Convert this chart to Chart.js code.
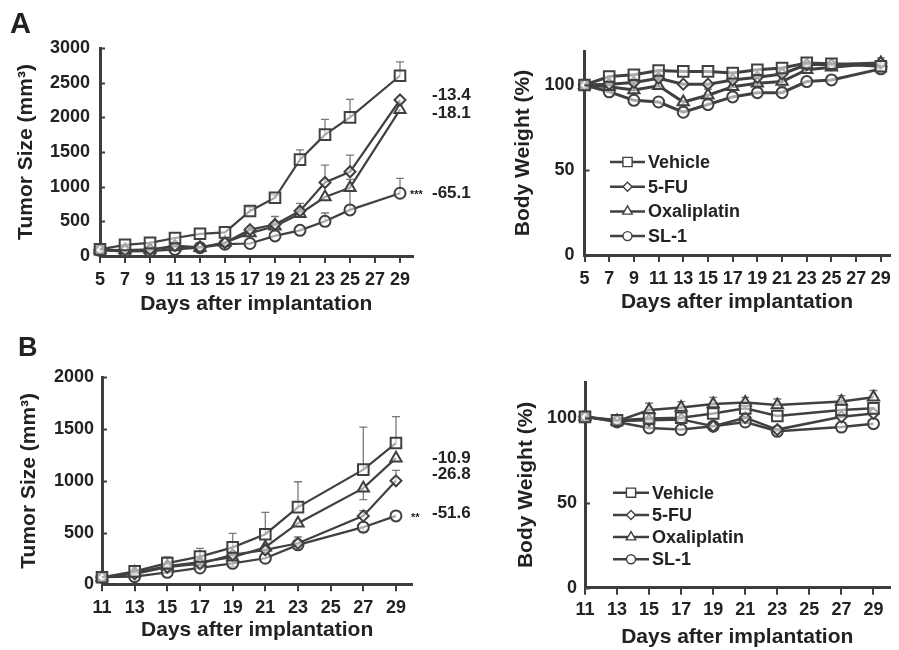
<!DOCTYPE html>
<html>
<head>
<meta charset="utf-8">
<script src="https://cdn.jsdelivr.net/npm/chart.js@4.4.0/dist/chart.umd.min.js"></script>
<style>
  body { margin: 0; background: #fff; }
  #page { position: relative; width: 899px; height: 650px; overflow: hidden; font-family: "Liberation Sans", Arial, sans-serif; color: #222; }
  canvas { position: absolute; }
  .txt { position: absolute; font-weight: bold; line-height: 1; white-space: nowrap; }
</style>
</head>
<body>
<div id="page">
  <canvas id="tumorA" style="left:0;top:0"></canvas>
  <canvas id="weightA" style="left:450px;top:0"></canvas>
  <canvas id="tumorB" style="left:0;top:320px"></canvas>
  <canvas id="weightB" style="left:450px;top:320px"></canvas>

  <div class="txt" style="left:10px;top:9px;font-size:29px">A</div>
  <div class="txt" style="left:18px;top:334px;font-size:27px">B</div>

  <div class="txt" style="left:432px;top:86px;font-size:17px">-13.4</div>
  <div class="txt" style="left:432px;top:104px;font-size:17px">-18.1</div>
  <div class="txt" style="left:432px;top:184px;font-size:17px">-65.1</div>

  <div class="txt" style="left:432px;top:449px;font-size:17px">-10.9</div>
  <div class="txt" style="left:432px;top:465px;font-size:17px">-26.8</div>
  <div class="txt" style="left:432px;top:504px;font-size:17px">-51.6</div>
</div>
<script>
// series shared by all four panels
var seriesNames = ['Vehicle', '5-FU', 'Oxaliplatin', 'SL-1'];
var markerStyles = ['rect', 'rectRot', 'triangle', 'circle'];
var markerSizes = [7.5, 5.5, 6.5, 5.5];

// panel A - tumor size
var daysA = [5, 7, 9, 11, 13, 15, 17, 19, 21, 23, 25, 29];
var dayTicksA = [5, 7, 9, 11, 13, 15, 17, 19, 21, 23, 25, 27, 29];
var tumorTicksA = [0, 500, 1000, 1500, 2000, 2500, 3000];
var tumorA_vehicle = [95, 160, 190, 260, 320, 340, 650, 840, 1390, 1750, 2000, 2600];
var tumorA_5fu = [90, 80, 90, 150, 125, 190, 380, 455, 650, 1060, 1215, 2250];
var tumorA_oxali = [90, 85, 95, 130, 120, 195, 330, 430, 610, 850, 985, 2110];
var tumorA_sl1 = [80, 65, 70, 95, 120, 170, 180, 290, 370, 500, 665, 905];
// error bars: positive drawn up, negative drawn down
var tumorAErr_vehicle = [0, 0, 0, 0, 0, 0, 50, 40, 140, 220, 260, 200];
var tumorAErr_5fu = [0, 0, 0, 0, 0, 0, 0, 115, 110, 250, 240, 0];
var tumorAErr_oxali = [0, 0, 0, 0, 0, 0, 0, 0, 60, 0, 120, 0];
var tumorAErr_sl1 = [0, 0, 0, 0, 0, 0, 0, 0, 0, 120, 280, 215];

// panel A - body weight
var weightTicks = [0, 50, 100];
var weightA_vehicle = [100, 105, 106, 108.5, 108, 108, 107, 109, 110, 113, 112.5, 111];
var weightA_5fu = [100, 100.5, 101.5, 104, 100.5, 100.5, 103, 104.5, 106.5, 112, 112, 113];
var weightA_oxali = [100, 99, 97, 99.5, 90, 94, 99, 101, 102, 109, 110.5, 113];
var weightA_sl1 = [100, 96, 91, 90, 84, 88.5, 93, 95.5, 95.5, 102, 103, 109.5];
var weightAErr_vehicle = [0, 0, 0, 0, 0, 0, 0, 0, 0, 0, 0, 5];
var weightAErr_5fu = [0, 0, 0, 0, 0, -3, 0, 0, 0, 0, 0, 0];
var weightAErr_oxali = [0, 0, -3, 0, -3, -3, 0, -3, -3, 0, 0, 0];
var weightAErr_sl1 = [0, 0, 0, 0, 0, 0, 0, 0, 0, 0, 0, -2];

// panel B - tumor size
var daysB = [11, 13, 15, 17, 19, 21, 23, 27, 29];
var dayTicksB = [11, 13, 15, 17, 19, 21, 23, 25, 27, 29];
var tumorTicksB = [0, 500, 1000, 1500, 2000];
var tumorB_vehicle = [68, 125, 205, 268, 357, 484, 746, 1108, 1365];
var tumorB_5fu = [68, 100, 165, 200, 284, 332, 397, 661, 1000];
var tumorB_oxali = [68, 113, 177, 215, 261, 358, 590, 929, 1219];
var tumorB_sl1 = [68, 74, 116, 158, 203, 252, 381, 552, 661];
var tumorBErr_vehicle = [0, 0, 60, 80, 135, 210, 245, 410, 255];
var tumorBErr_5fu = [0, 0, 0, 0, 0, 0, 60, 50, 100];
var tumorBErr_oxali = [0, 0, 0, 0, 0, 0, 0, -110, 0];
var tumorBErr_sl1 = [0, 0, 0, 0, -30, 0, 0, -50, 0];

// panel B - body weight
var weightB_vehicle = [100.5, 98.5, 99.5, 100, 102.5, 105.5, 101, 104.5, 105.5];
var weightB_5fu = [100.5, 98, 98.5, 99, 95, 100, 93, 100.5, 102.5];
var weightB_oxali = [100.5, 98, 104.5, 106, 108, 109, 107.5, 109.5, 112];
var weightB_sl1 = [100.5, 97.5, 94, 93, 95, 97.5, 92, 94.5, 96.5];
var weightBErr_vehicle = [0, 0, 0, 0, 0, 0, 0, 0, 0];
var weightBErr_5fu = [0, 0, 0, 0, 0, 0, 0, 0, 0];
var weightBErr_oxali = [0, 0, 4, 3.5, 4, 3, 3.5, 3.5, 4];
var weightBErr_sl1 = [0, 0, 0, 0, 0, 0, 0, 0, 0];

var FONT = '"Liberation Sans", Arial, sans-serif';
var INK = '#222';
var AXIS = '#3d3d3d';
var LINE = '#404040';

// vertical error bars with a cap at the end
var errorBars = {
  id: 'errorBars',
  beforeDatasetsDraw: function (chart) {
    var ctx = chart.ctx, x = chart.scales.x, y = chart.scales.y;
    ctx.save();
    ctx.strokeStyle = '#7a7a7a';
    ctx.lineWidth = 1.3;
    chart.data.datasets.forEach(function (ds) {
      (ds.errors || []).forEach(function (e, k) {
        if (!e) return;
        var pt = ds.data[k];
        var px = x.getPixelForValue(pt.x);
        var y0 = y.getPixelForValue(pt.y);
        var y1 = y.getPixelForValue(pt.y + e);
        ctx.beginPath();
        ctx.moveTo(px, y0); ctx.lineTo(px, y1);
        ctx.moveTo(px - 4, y1); ctx.lineTo(px + 4, y1);
        ctx.stroke();
      });
    });
    ctx.restore();
  }
};

function marker(ctx, style, cx, cy, r) {
  ctx.beginPath();
  if (style === 'rect') {
    var s = r * Math.SQRT1_2;
    ctx.rect(cx - s, cy - s, 2 * s, 2 * s);
  } else if (style === 'rectRot') {
    ctx.moveTo(cx, cy - r); ctx.lineTo(cx + r, cy); ctx.lineTo(cx, cy + r); ctx.lineTo(cx - r, cy); ctx.closePath();
  } else if (style === 'triangle') {
    ctx.moveTo(cx, cy - r); ctx.lineTo(cx + r * 0.866, cy + r * 0.5); ctx.lineTo(cx - r * 0.866, cy + r * 0.5); ctx.closePath();
  } else {
    ctx.arc(cx, cy, r, 0, Math.PI * 2);
  }
  ctx.fill();
  ctx.stroke();
}

// inward y ticks, significance stars, in-plot legend
var extras = {
  id: 'extras',
  afterDraw: function (chart, args, opts) {
    var ctx = chart.ctx, a = chart.chartArea, y = chart.scales.y, x = chart.scales.x;
    ctx.save();
    ctx.strokeStyle = AXIS;
    ctx.lineWidth = 2;
    y.ticks.forEach(function (t) {
      var py = Math.round(y.getPixelForValue(t.value)) + 0.5;
      ctx.beginPath(); ctx.moveTo(a.left, py); ctx.lineTo(a.left + 5, py); ctx.stroke();
    });
    if (opts.stars) {
      var ds = chart.data.datasets[3];
      var last = ds.data[ds.data.length - 1];
      ctx.fillStyle = INK;
      ctx.font = 'bold 11px ' + FONT;
      ctx.textBaseline = 'middle';
      ctx.fillText(opts.stars.text, x.getPixelForValue(last.x) + opts.stars.dx, y.getPixelForValue(last.y) + 2);
    }
    if (opts.legend) {
      var L = opts.legend;
      seriesNames.forEach(function (name, i) {
        var ly = a.top + L.y + i * L.gap;
        var lx = a.left + L.x;
        ctx.strokeStyle = LINE;
        ctx.lineWidth = 2.5;
        ctx.beginPath(); ctx.moveTo(lx, ly); ctx.lineTo(lx + L.len, ly); ctx.stroke();
        ctx.fillStyle = '#fff';
        ctx.lineWidth = 1.4;
        marker(ctx, markerStyles[i], lx + L.len / 2, ly, markerSizes[i] - 1);
        ctx.fillStyle = INK;
        ctx.font = 'bold 18px ' + FONT;
        ctx.textBaseline = 'middle';
        ctx.fillText(name, lx + L.len + 3, ly + 1);
      });
    }
    ctx.restore();
  }
};

function makePanel(id, p) {
  var el = document.getElementById(id);
  el.width = p.w;
  el.height = p.h;
  var datasets = p.values.map(function (vals, i) {
    return {
      label: seriesNames[i],
      data: vals.map(function (v, k) { return { x: p.days[k], y: v }; }),
      errors: p.errors[i],
      borderColor: LINE,
      borderWidth: p.lineWidth,
      pointStyle: markerStyles[i],
      pointRadius: markerSizes[i],
      pointBorderWidth: 2,
      pointBorderColor: LINE,
      pointBackgroundColor: 'rgba(255,255,255,0.55)',
      tension: 0,
      clip: false
    };
  });
  var tickFont = { family: FONT, size: 18, weight: 'bold' };
  var titleFont = { family: FONT, size: 21, weight: 'bold' };
  var plain = function (v) { return String(v); };
  return new Chart(el, {
    type: 'line',
    data: { datasets: datasets },
    options: {
      responsive: false,
      animation: false,
      events: [],
      layout: { padding: { left: 0, top: p.area.top, right: p.w - p.area.right, bottom: 0 } },
      scales: {
        x: {
          type: 'linear',
          min: p.xMin,
          max: p.xMax,
          afterBuildTicks: function (s) { s.ticks = p.xTicks.map(function (v) { return { value: v }; }); },
          afterFit: function (s) { s.height = p.h - p.area.bottom; s.paddingLeft = 0; s.paddingRight = 0; },
          grid: { drawOnChartArea: false, drawTicks: true, tickLength: 7, lineWidth: 2, color: AXIS },
          border: { display: true, width: 3, color: AXIS },
          ticks: { padding: p.xTickPad, color: INK, font: tickFont, maxRotation: 0, autoSkip: false, callback: plain },
          title: { display: true, text: 'Days after implantation', color: INK, font: titleFont,
                   padding: { top: 0, bottom: p.h - p.xTitleY - 12.6 } }
        },
        y: {
          type: 'linear',
          min: 0,
          max: p.yMax,
          afterBuildTicks: function (s) { s.ticks = p.yTicks.map(function (v) { return { value: v }; }); },
          afterFit: function (s) { s.width = p.area.left; s.paddingTop = 0; s.paddingBottom = 0; },
          grid: { drawOnChartArea: false, drawTicks: false },
          border: { display: true, width: 3, color: AXIS },
          ticks: { padding: p.yTickPad, color: INK, font: tickFont, callback: plain },
          title: { display: true, text: p.yTitle, color: INK, font: titleFont,
                   padding: { top: p.yTitleX - 12.6, bottom: 0 } }
        }
      },
      plugins: {
        legend: { display: false },
        tooltip: { enabled: false },
        extras: { stars: p.stars || null, legend: p.legend || null }
      }
    },
    plugins: [errorBars, extras]
  });
}

makePanel('tumorA', {
  w: 450, h: 320,
  area: { left: 100, top: 48, right: 412.5, bottom: 256 },
  days: daysA, xTicks: dayTicksA, xMin: 5, xMax: 30,
  yTicks: tumorTicksA, yMax: 3000,
  values: [tumorA_vehicle, tumorA_5fu, tumorA_oxali, tumorA_sl1],
  errors: [tumorAErr_vehicle, tumorAErr_5fu, tumorAErr_oxali, tumorAErr_sl1],
  yTitle: 'Tumor Size (mm³)', yTitleX: 25.8, yTickPad: 10,
  xTickPad: 6, xTitleY: 304.3, lineWidth: 2.2,
  stars: { text: '***', dx: 10 }
});

makePanel('weightA', {
  w: 449, h: 320,
  area: { left: 134.5, top: 51, right: 448, bottom: 255 },
  days: daysA, xTicks: dayTicksA, xMin: 5, xMax: 29.7,
  yTicks: weightTicks, yMax: 120,
  values: [weightA_vehicle, weightA_5fu, weightA_oxali, weightA_sl1],
  errors: [weightAErr_vehicle, weightAErr_5fu, weightAErr_oxali, weightAErr_sl1],
  yTitle: 'Body Weight (%)', yTitleX: 73.3, yTickPad: 10,
  xTickPad: 6, xTitleY: 302.5, lineWidth: 3,
  legend: { x: 25.5, y: 111, gap: 24.7, len: 35 }
});

makePanel('tumorB', {
  w: 450, h: 330,
  area: { left: 102, top: 57.3, right: 412.3, bottom: 264.3 },
  days: daysB, xTicks: dayTicksB, xMin: 11, xMax: 30,
  yTicks: tumorTicksB, yMax: 2000,
  values: [tumorB_vehicle, tumorB_5fu, tumorB_oxali, tumorB_sl1],
  errors: [tumorBErr_vehicle, tumorBErr_5fu, tumorBErr_oxali, tumorBErr_sl1],
  yTitle: 'Tumor Size (mm³)', yTitleX: 29.2, yTickPad: 8,
  xTickPad: 6, xTitleY: 310.3, lineWidth: 2.2,
  stars: { text: '**', dx: 15 }
});

makePanel('weightB', {
  w: 449, h: 330,
  area: { left: 135, top: 62, right: 444, bottom: 267.7 },
  days: daysB, xTicks: dayTicksB, xMin: 11, xMax: 30,
  yTicks: weightTicks, yMax: 121,
  values: [weightB_vehicle, weightB_5fu, weightB_oxali, weightB_sl1],
  errors: [weightBErr_vehicle, weightBErr_5fu, weightBErr_oxali, weightBErr_sl1],
  yTitle: 'Body Weight (%)', yTitleX: 75.8, yTickPad: 8,
  xTickPad: 5, xTitleY: 317, lineWidth: 2.5,
  legend: { x: 28, y: 110.7, gap: 22.2, len: 36 }
});
</script>
</body>
</html>
